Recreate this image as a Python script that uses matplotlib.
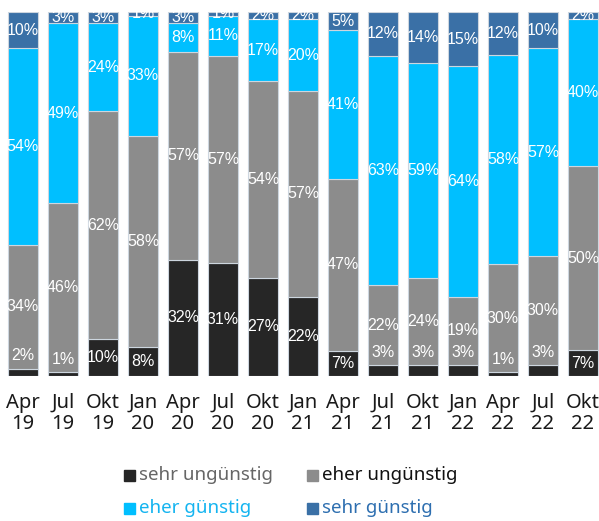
import numpy as np
import matplotlib
matplotlib.use("Agg")
import matplotlib.pyplot as plt
from matplotlib.patches import Rectangle

# quarterly survey, shares in %
months = ["Apr", "Jul", "Okt", "Jan", "Apr", "Jul", "Okt", "Jan",
          "Apr", "Jul", "Okt", "Jan", "Apr", "Jul", "Okt"]
years = ["19", "19", "19", "20", "20", "20", "20", "21",
         "21", "21", "21", "22", "22", "22", "22"]
sehr_unguenstig = [2, 1, 10, 8, 32, 31, 27, 22, 7, 3, 3, 3, 1, 3, 7]
eher_unguenstig = [34, 46, 62, 58, 57, 57, 54, 57, 47, 22, 24, 19, 30, 30, 50]
eher_guenstig = [54, 49, 24, 33, 8, 11, 17, 20, 41, 63, 59, 64, 58, 57, 40]
sehr_guenstig = [10, 3, 3, 1, 3, 1, 2, 2, 5, 12, 14, 15, 12, 10, 2]

series = [
    ("sehr ungünstig", sehr_unguenstig, "#262626", "#666666"),
    ("eher ungünstig", eher_unguenstig, "#8c8c8c", "#111111"),
    ("eher günstig", eher_guenstig, "#00bfff", "#14b4f0"),
    ("sehr günstig", sehr_guenstig, "#3a70a6", "#2e6fb0"),
]

NUM_FONT = ["Liberation Sans", "DejaVu Sans"]
TXT_FONT = ["Noto Sans", "DejaVu Sans"]

W, H = 599, 521
fig = plt.figure(figsize=(W / 100, H / 100), dpi=100)
ax = fig.add_axes([0, (H - 376) / H, 1, (376 - 12) / H])

x = np.arange(len(months))
vals = np.array([s[1] for s in series], dtype=float)
vals = vals / vals.sum(axis=0) * 100   # bars are drawn as 100 % stacks
bottom = np.zeros(len(months))
for k, (name, _, color, _) in enumerate(series):
    h = vals[k]
    ax.bar(x, h, width=0.75, bottom=bottom, color=color,
           edgecolor="#cdd6df", linewidth=0.8)
    raw = series[k][1]
    for i in range(len(x)):
        if k == 0 and raw[i] < 5:
            ty = bottom[i] + h[i] + 3.5
        else:
            ty = bottom[i] + h[i] / 2
        ax.text(x[i], ty, f"{raw[i]}%", ha="center", va="center",
                color="white", fontsize=11.5, family=NUM_FONT)
    bottom += h

ax.set_xlim((0 - 23) / 40, (W - 23) / 40)
ax.set_ylim(0, 100)
ax.set_xticks(x)
ax.set_xticklabels([f"{m}\n{y}" for m, y in zip(months, years)],
                   fontsize=14.5, family=TXT_FONT, color="#1a1a1a",
                   linespacing=1.12)
ax.tick_params(axis="x", length=0, pad=12)
ax.set_yticks([])
for sp in ax.spines.values():
    sp.set_visible(False)

# legend, two rows
leg_pos = [(124, 475), (307, 475), (124, 508), (307, 508)]
for (name, _, color, tcolor), (px, py) in zip(series, leg_pos):
    fig.patches.append(Rectangle((px / W, (H - py - 5.5) / H), 11 / W, 11 / H,
                                 transform=fig.transFigure, color=color))
    fig.text((px + 15) / W, (H - py) / H, name, ha="left", va="center",
             fontsize=13.5, family=TXT_FONT, color=tcolor)

fig.savefig("out.png", dpi=100)
